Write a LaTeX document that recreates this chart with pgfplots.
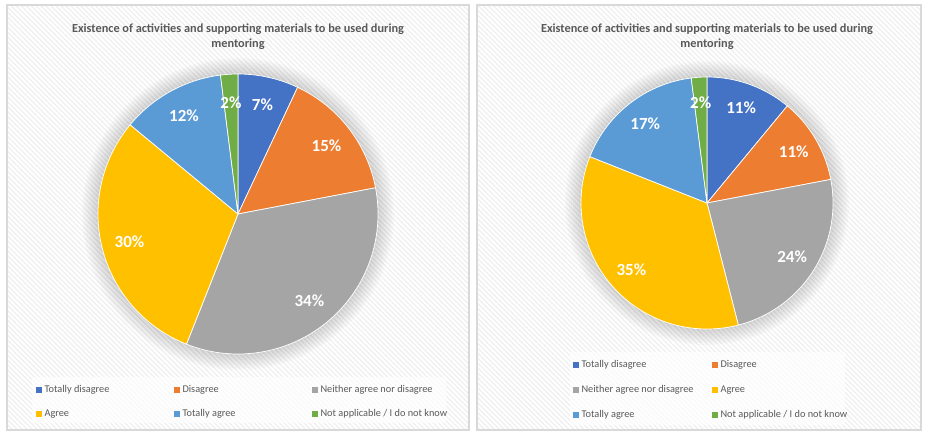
\documentclass[border=0pt]{standalone}
\usepackage{fontspec}
\setmainfont{Carlito}
\usepackage{pgfplots}
\pgfplotsset{compat=1.18}
\usetikzlibrary{patterns.meta}

\definecolor{cTD}{HTML}{4472C4}
\definecolor{cD}{HTML}{ED7D31}
\definecolor{cN}{HTML}{A5A5A5}
\definecolor{cA}{HTML}{FFC000}
\definecolor{cTA}{HTML}{5B9BD5}
\definecolor{cNA}{HTML}{70AD47}
\definecolor{txt}{HTML}{595959}
\definecolor{frame}{HTML}{D9D9D9}

% one wedge: #1 start (cumulative %), #2 share (%), #3 colour
\newcommand\slice[3]{%
  \addplot[fill=#3, draw=white, line width=0.6pt, domain={90-3.6*(#1+#2)}:{90-3.6*#1}, samples=90]
    ({cos(x)},{sin(x)}) -- (axis cs:0,0) -- cycle;
  \node[font=\bfseries\fontsize{14.5}{16}\selectfont, text=white]
    at (axis cs:{0.8*cos(90-3.6*(#1+#2/2))},{0.8*sin(90-3.6*(#1+#2/2))}) {#2\%};
}

\pgfplotsset{pie/.style={hide axis, scale only axis, anchor=center, clip=false,
  xmin=-1, xmax=1, ymin=-1, ymax=1}}

\begin{document}
\begin{tikzpicture}
\begin{scope}[x=0.3mm, y=-0.3mm]
  \path[use as bounding box] (0,0) rectangle (925,432);
  % panels
  \foreach \a/\b in {7/469, 477/921}{
    \path[pattern={Lines[angle=-45, distance=3pt, line width=1.2pt]}, pattern color=black!6]
      (\a,5) rectangle (\b,430);
    \draw[frame, line width=0.9pt] (\a,5) rectangle (\b,430);
  }
  % soft shadow round the pies
  \foreach \r in {2,4,...,16}{
    \fill[black, opacity=0.018] (238,214) circle (140+\r);
    \fill[black, opacity=0.018] (707,203) circle (126+\r);
  }
  % titles
  \foreach \cx in {238, 707}{
    \node[font=\bfseries\fontsize{10.5}{13}\selectfont, text=txt, align=center] at (\cx,37)
      {Existence of activities and supporting materials to be used during\\mentoring};
  }
  % legend boxes
  \fill[white, opacity=0.65] (32,377) rectangle (446,423);
  \fill[white, opacity=0.65] (570,352) rectangle (845,425);
  \tikzset{lgkey/.style={minimum size=5.7*0.3mm, inner sep=0pt, anchor=west},
           lgtxt/.style={anchor=west, inner sep=0pt, text=txt, font=\fontsize{8.8}{10}\selectfont}}
  \foreach \x/\y/\c/\t in {36/390/cTD/{Totally disagree}, 174/390/cD/{Disagree},
      312/390/cN/{Neither agree nor disagree}, 36/414/cA/{Agree}, 174/414/cTA/{Totally agree},
      312/414/cNA/{Not applicable / I do not know},
      573/365/cTD/{Totally disagree}, 712/365/cD/{Disagree},
      573/390/cN/{Neither agree nor disagree}, 712/390/cA/{Agree},
      573/415/cTA/{Totally agree}, 712/415/cNA/{Not applicable / I do not know}}{
    \node[lgkey, fill=\c] at (\x,\y) {};
    \node[lgtxt] at (\x+8.3,\y) {\t};
  }
\end{scope}

\begin{axis}[pie, at={(71.4mm,-64.2mm)}, width=84mm, height=84mm]
  \slice{0}{7}{cTD}
  \slice{7}{15}{cD}
  \slice{22}{34}{cN}
  \slice{56}{30}{cA}
  \slice{86}{12}{cTA}
  \slice{98}{2}{cNA}
\end{axis}

\begin{axis}[pie, at={(212.1mm,-60.9mm)}, width=75.6mm, height=75.6mm]
  \slice{0}{11}{cTD}
  \slice{11}{11}{cD}
  \slice{22}{24}{cN}
  \slice{46}{35}{cA}
  \slice{81}{17}{cTA}
  \slice{98}{2}{cNA}
\end{axis}
\end{tikzpicture}
\end{document}
